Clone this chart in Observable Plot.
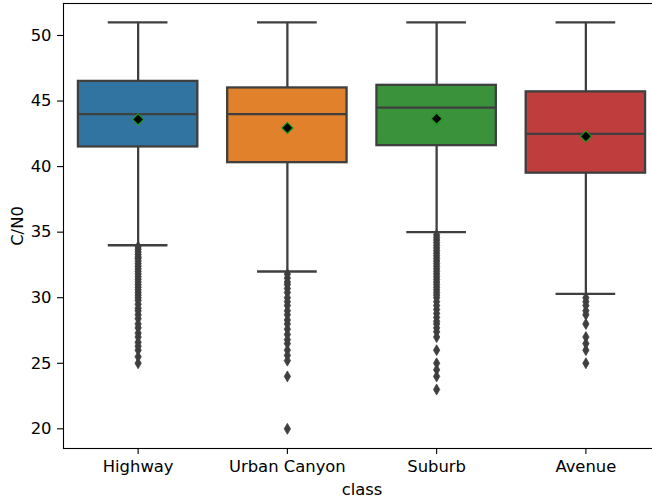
<!DOCTYPE html>
<html>
<head>
<meta charset="utf-8">
<script src="https://cdn.jsdelivr.net/npm/d3@7"></script>
<script src="https://cdn.jsdelivr.net/npm/@observablehq/plot@0.6"></script>
<style>
  html, body { margin: 0; padding: 0; background: #fff; overflow: hidden; }
  #chart { width: 661px; }
  #chart svg { display: block; max-width: none !important; }
</style>
</head>
<body>
<div id="chart"></div>
<script>
const classes = ["Highway", "Urban Canyon", "Suburb", "Avenue"];
const colors = ["#3274a1", "#e1812c", "#3a923a", "#c03d3e"];
const q1 = [41.5, 40.3, 41.6, 39.5];
const medians = [44.0, 44.0, 44.5, 42.5];
const q3 = [46.5, 46.0, 46.2, 45.7];
const whiskerLow = [34.0, 32.0, 35.0, 30.3];
const whiskerHigh = [51.0, 51.0, 51.0, 51.0];
const means = [43.6, 42.95, 43.65, 42.3];
const outliersHighway = [33.9, 33.7, 33.5, 33.3, 33.1, 33.0, 32.8, 32.6, 32.4, 32.2, 32.0, 31.8, 31.6, 31.4, 31.2, 31.0, 30.8, 30.6, 30.4, 30.2, 30.0, 29.8, 29.5, 29.2, 29.0, 28.7, 28.4, 28.0, 27.7, 27.3, 27.0, 26.6, 26.3, 26.0, 25.5, 25.0];
const outliersUrban = [31.8, 31.5, 31.2, 31.0, 30.7, 30.4, 30.0, 29.7, 29.4, 29.0, 28.7, 28.3, 28.0, 27.6, 27.2, 26.8, 26.5, 26.0, 25.6, 25.2, 24.0, 20.0];
const outliersSuburb = [34.8, 34.6, 34.4, 34.2, 34.0, 33.8, 33.6, 33.4, 33.2, 33.0, 32.8, 32.6, 32.4, 32.2, 32.0, 31.8, 31.6, 31.4, 31.2, 31.0, 30.8, 30.6, 30.4, 30.2, 30.0, 29.7, 29.4, 29.1, 28.8, 28.5, 28.2, 28.0, 27.7, 27.4, 27.0, 26.0, 25.0, 24.5, 24.0, 23.0];
const outliersAvenue = [30.0, 29.7, 29.4, 29.0, 28.7, 28.0, 27.0, 26.5, 26.0, 25.0];
const yTicks = [20, 25, 30, 35, 40, 45, 50];

const boxWidth = 0.8;
const capWidth = 0.4;
const lineColor = "#3f3f3f";
const lw = 2.3;

const stats = classes.map((c, i) => ({
  i, c, color: colors[i], q1: q1[i], med: medians[i], q3: q3[i],
  lo: whiskerLow[i], hi: whiskerHigh[i], mean: means[i]
}));
const outlierLists = [outliersHighway, outliersUrban, outliersSuburb, outliersAvenue];
const outliers = outlierLists.flatMap((arr, i) => arr.map(v => ({i, v})));

const chart = Plot.plot({
  width: 661,
  height: 502,
  marginLeft: 63,
  marginRight: 1,
  marginTop: 3,
  marginBottom: 54,
  style: {fontFamily: "DejaVu Sans, sans-serif", fontSize: "16.4px", color: "#000", background: "#fff"},
  x: {domain: [-0.5, 3.5], axis: null},
  y: {domain: [18.5, 52.44], axis: null},
  marks: [
    Plot.rect(stats, {x1: d => d.i - boxWidth / 2, x2: d => d.i + boxWidth / 2, y1: "q1", y2: "q3",
      fill: d => d.color, stroke: lineColor, strokeWidth: lw}),
    Plot.ruleX(stats, {x: "i", y1: "q3", y2: "hi", stroke: lineColor, strokeWidth: lw}),
    Plot.ruleX(stats, {x: "i", y1: "q1", y2: "lo", stroke: lineColor, strokeWidth: lw}),
    Plot.ruleY(stats, {y: "hi", x1: d => d.i - capWidth / 2, x2: d => d.i + capWidth / 2, stroke: lineColor, strokeWidth: lw}),
    Plot.ruleY(stats, {y: "lo", x1: d => d.i - capWidth / 2, x2: d => d.i + capWidth / 2, stroke: lineColor, strokeWidth: lw}),
    Plot.ruleY(stats, {y: "med", x1: d => d.i - boxWidth / 2, x2: d => d.i + boxWidth / 2, stroke: lineColor, strokeWidth: lw}),
    Plot.dot(outliers, {x: "i", y: "v", symbol: "diamond", r: 3.3, fill: lineColor, stroke: lineColor, strokeWidth: 0.8}),
    Plot.dot(stats, {x: "i", y: "mean", symbol: "diamond2", r: 5, fill: "black", stroke: "#1a9a1a", strokeWidth: 1.2}),
    Plot.frame({stroke: "black", strokeWidth: 1.1}),
    Plot.axisX({ticks: [0, 1, 2, 3], tickFormat: i => classes[i], label: "class", labelAnchor: "center",
      labelArrow: false, labelOffset: 46, tickSize: 6, tickPadding: 6, stroke: "black", strokeWidth: 1.1}),
    Plot.axisY({ticks: yTicks, label: "C/N0", labelAnchor: "center", labelArrow: false, labelOffset: 52,
      tickSize: 6, tickPadding: 6, stroke: "black", strokeWidth: 1.1})
  ]
});
document.getElementById("chart").appendChild(chart);
</script>
</body>
</html>
